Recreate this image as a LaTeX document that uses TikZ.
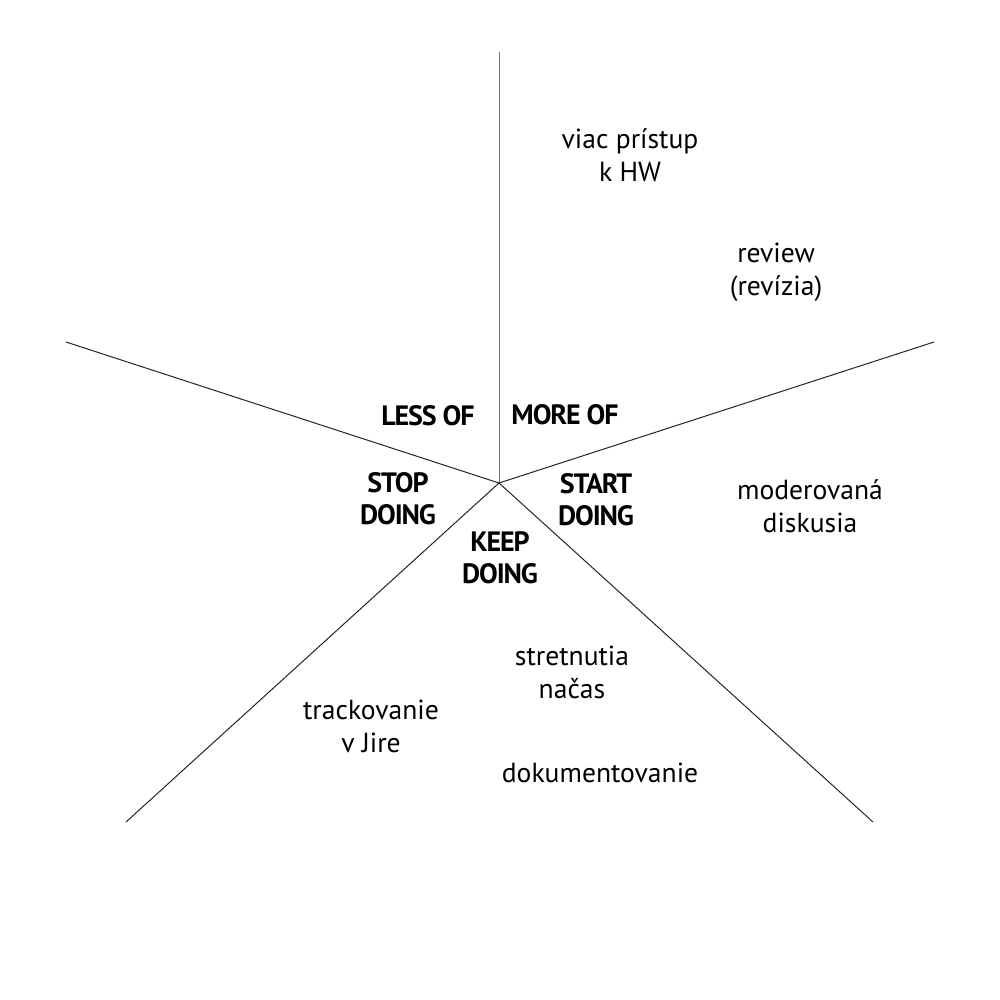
\documentclass[tikz,border=0pt]{standalone}
\usepackage{fontspec}
\setmainfont{PT Sans}
\begin{document}
\begin{tikzpicture}[x=0.5pt,y=-0.5pt,
  spoke/.style={line width=0.5pt,black!85},
  item/.style={align=center,font=\fontsize{13.8}{16.5}\selectfont,inner sep=0pt},
  head/.style={align=center,font=\fontsize{14}{16}\selectfont\bfseries\addfontfeature{LetterSpace=-4},inner sep=0pt}]
\useasboundingbox[fill=white] (0,0) rectangle (1000,1000);
\coordinate (c) at (499,483);
\coordinate (top) at (499,52);
\coordinate (rt) at (934,342);
\coordinate (br) at (873,822);
\coordinate (bl) at (126,822);
\coordinate (lt) at (66,342);
\draw[spoke,black!55] (c) -- (top);
\draw[spoke] (c) -- (rt);
\draw[spoke] (c) -- (br);
\draw[spoke] (c) -- (bl);
\draw[spoke] (c) -- (lt);
\node[head] (less) at (428,416) {LESS OF};
\node[head] (more) at (565,415) {MORE OF};
\node[head] (stop) at (398,499) {STOP\\DOING};
\node[head] (start) at (596,500) {START\\DOING};
\node[head] (keep) at (500,558) {KEEP\\DOING};
\node[item] (hw) at (630,155) {viac prístup\\k HW};
\node[item] (rev) at (776,272) {review\\(revízia)};
\node[item] (mod) at (810,506) {moderovaná\\diskusia};
\node[item] (stret) at (572,672) {stretnutia\\načas};
\node[item] (track) at (371,726) {trackovanie\\v Jire};
\node[item] (dok) at (600,773) {dokumentovanie};
\end{tikzpicture}
\end{document}
